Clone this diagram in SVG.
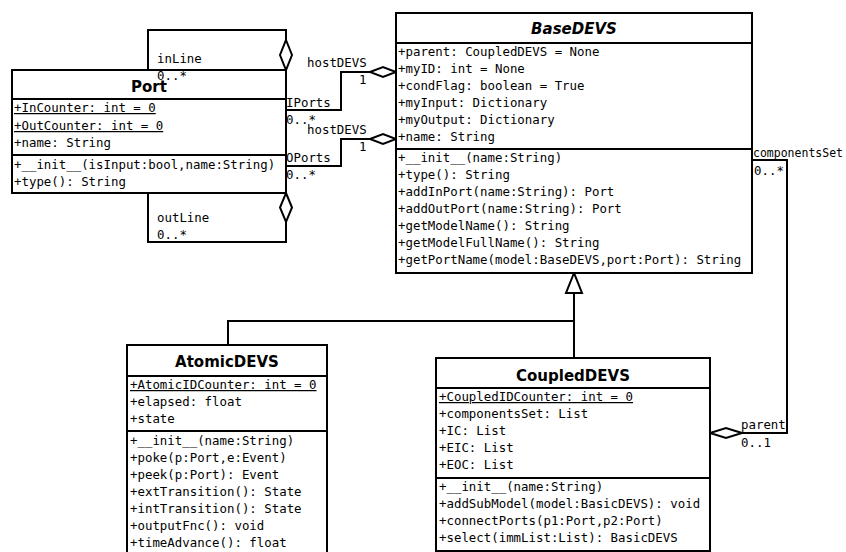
<svg xmlns="http://www.w3.org/2000/svg" width="846" height="552" viewBox="0 0 846 552">
<style>
.box{fill:#fff;stroke:#000;stroke-width:2}
.sep{stroke:#000;stroke-width:2}
.ln{fill:none;stroke:#000;stroke-width:2}
.dm{fill:#fff;stroke:#000;stroke-width:2}
.t{font-family:"DejaVu Sans Mono","Liberation Mono",monospace;font-size:12.4px;fill:#000}
.u{text-decoration:underline}
.h{font-family:"DejaVu Sans","Liberation Sans",sans-serif;font-size:15px;font-weight:bold;fill:#000;text-anchor:middle}
.i{font-style:italic}
</style>
<rect width="846" height="552" fill="#fff"/>
<g id="connectors">
<path class="ln" d="M148,70 V30 H286 V40"/>
<polygon class="dm" points="286,40 292,55 286,70 280,55"/>
<path class="ln" d="M148,193 V242 H286 V222"/>
<polygon class="dm" points="286,193 292,207.5 286,222 280,207.5"/>
<path class="ln" d="M286,110 H341 V72 H370"/>
<polygon class="dm" points="370,72 383,67 396,72 383,77"/>
<path class="ln" d="M286,166 H341 V139 H370"/>
<polygon class="dm" points="370,139 383,134 396,139 383,144"/>
<path class="ln" d="M752,160 H787 V433 H742"/>
<polygon class="dm" points="742,433 726,428 710,433 726,438"/>
<path class="ln" d="M574,293 V358 M574,321 H228 V345"/>
<polygon class="dm" points="574,273 566,293 582,293"/>
<text class="t" x="157" y="63">inLine</text>
<text class="t" x="157" y="222">outLine</text>
<text class="t" x="157" y="239">0..*</text>
<text class="t" x="307" y="67">hostDEVS</text>
<text class="t" x="359" y="84">1</text>
<text class="t" x="286" y="107">IPorts</text>
<text class="t" x="286" y="124">0..*</text>
<text class="t" x="307" y="134">hostDEVS</text>
<text class="t" x="359" y="151">1</text>
<text class="t" x="286" y="162">OPorts</text>
<text class="t" x="286" y="179">0..*</text>
<text class="t" x="753" y="157" style="font-size:11.5px">componentsSet</text>
<text class="t" x="754" y="175">0..*</text>
<text class="t" x="741" y="429">parent</text>
<text class="t" x="741" y="447">0..1</text>
</g>
<g id="Port">
<rect class="box" x="12" y="70" width="274" height="123"/>
<line class="sep" x1="12" y1="99" x2="286" y2="99"/>
<line class="sep" x1="12" y1="155" x2="286" y2="155"/>
<text class="t" x="157" y="80">0..*</text>
<text class="h" x="149" y="92">Port</text>
<text class="t u" x="14" y="112">+InCounter: int = 0</text>
<text class="t u" x="14" y="130">+OutCounter: int = 0</text>
<text class="t" x="14" y="147">+name: String</text>
<text class="t" x="14" y="169">+__init__(isInput:bool,name:String)</text>
<text class="t" x="14" y="186">+type(): String</text>
</g>
<g id="BaseDEVS">
<rect class="box" x="396" y="13" width="356" height="260"/>
<line class="sep" x1="396" y1="43" x2="752" y2="43"/>
<line class="sep" x1="396" y1="149" x2="752" y2="149"/>
<text class="h i" x="574" y="34">BaseDEVS</text>
<text class="t" x="398" y="56">+parent: CoupledDEVS = None</text>
<text class="t" x="398" y="73">+myID: int = None</text>
<text class="t" x="398" y="90">+condFlag: boolean = True</text>
<text class="t" x="398" y="107">+myInput: Dictionary</text>
<text class="t" x="398" y="124">+myOutput: Dictionary</text>
<text class="t" x="398" y="141">+name: String</text>
<text class="t" x="398" y="162">+__init__(name:String)</text>
<text class="t" x="398" y="179">+type(): String</text>
<text class="t" x="398" y="196">+addInPort(name:String): Port</text>
<text class="t" x="398" y="213">+addOutPort(name:String): Port</text>
<text class="t" x="398" y="230">+getModelName(): String</text>
<text class="t" x="398" y="247">+getModelFullName(): String</text>
<text class="t" x="398" y="264">+getPortName(model:BaseDEVS,port:Port): String</text>
</g>
<g id="AtomicDEVS">
<rect class="box" x="127" y="345" width="200" height="220"/>
<line class="sep" x1="127" y1="376" x2="327" y2="376"/>
<line class="sep" x1="127" y1="431" x2="327" y2="431"/>
<text class="h" x="227" y="367">AtomicDEVS</text>
<text class="t u" x="130" y="389">+AtomicIDCounter: int = 0</text>
<text class="t" x="130" y="406">+elapsed: float</text>
<text class="t" x="130" y="423">+state</text>
<text class="t" x="130" y="445">+__init__(name:String)</text>
<text class="t" x="130" y="462">+poke(p:Port,e:Event)</text>
<text class="t" x="130" y="479">+peek(p:Port): Event</text>
<text class="t" x="130" y="496">+extTransition(): State</text>
<text class="t" x="130" y="513">+intTransition(): State</text>
<text class="t" x="130" y="530">+outputFnc(): void</text>
<text class="t" x="130" y="547">+timeAdvance(): float</text>
</g>
<g id="CoupledDEVS">
<rect class="box" x="436" y="358" width="274" height="193"/>
<line class="sep" x1="436" y1="388" x2="710" y2="388"/>
<line class="sep" x1="436" y1="478" x2="710" y2="478"/>
<text class="h" x="573" y="381">CoupledDEVS</text>
<text class="t u" x="439" y="401">+CoupledIDCounter: int = 0</text>
<text class="t" x="439" y="418">+componentsSet: List</text>
<text class="t" x="439" y="435">+IC: List</text>
<text class="t" x="439" y="452">+EIC: List</text>
<text class="t" x="439" y="469">+EOC: List</text>
<text class="t" x="439" y="491">+__init__(name:String)</text>
<text class="t" x="439" y="508">+addSubModel(model:BasicDEVS): void</text>
<text class="t" x="439" y="525">+connectPorts(p1:Port,p2:Port)</text>
<text class="t" x="439" y="542">+select(immList:List): BasicDEVS</text>
</g>
</svg>
